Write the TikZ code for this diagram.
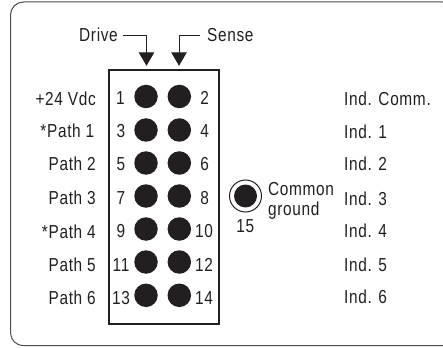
\documentclass[tikz,border=0pt]{standalone}
\usepackage{fontspec}
\setmainfont[FakeStretch=0.82,LetterSpace=3.5]{Liberation Sans}
\usetikzlibrary{arrows.meta}
\definecolor{ink}{HTML}{231F20}
\tikzset{
  x=1pt,y=-1pt,
  lbl/.style={inner sep=0pt,font=\fontsize{18.8}{18.8}\selectfont,text=ink},
  leftlbl/.style={lbl,anchor=base east},
  rightlbl/.style={lbl,anchor=base west},
  numl/.style={lbl,anchor=base},
  pin/.style={circle,fill=ink,minimum size=23.5pt,inner sep=0pt},
  conn/.style={draw=ink,line width=1pt,-{Triangle[length=13.5pt,width=15.5pt]}},
}
\begin{document}
\begin{tikzpicture}
\useasboundingbox (0,0) rectangle (443,347);
\draw[draw=ink!80,line width=1pt,rounded corners=13pt] (10.5,2) -- (455,2) -- (455,345.7) -- (10.5,345.7) -- cycle;
\node[draw=ink,line width=1.8pt,minimum width=110.5pt,minimum height=253.5pt,inner sep=0pt,anchor=north west] (box) at (107.8,69.5) {};
\foreach \y/\a/\b in {96.5/1/2,130/3/4,163/5/6,196/7/8,229/9/10,262/11/12,295.3/13/14}{
  \node[pin] (p\a) at (146,\y) {};
  \node[pin] (p\b) at (179.3,\y) {};
}
\node[numl] (n1) at (120.5,105) {1};
\node[numl] (n2) at (204.7,105) {2};
\node[numl] (n3) at (121,137.8) {3};
\node[numl] (n4) at (204.7,137.8) {4};
\node[numl] (n5) at (121,170.5) {5};
\node[numl] (n6) at (204.7,170.5) {6};
\node[numl] (n7) at (121,204) {7};
\node[numl] (n8) at (204.7,204) {8};
\node[numl] (n9) at (121,237.5) {9};
\node[numl] (n10) at (204,237.5) {10};
\node[numl] (n11) at (121,271) {11};
\node[numl] (n12) at (204,271) {12};
\node[numl] (n13) at (121,304) {13};
\node[numl] (n14) at (204,304) {14};
\node[leftlbl] (l1) at (96,105.5) {+24 Vdc};
\node[leftlbl] (l2) at (94.5,138) {*Path 1};
\node[leftlbl] (l3) at (96,171) {Path 2};
\node[leftlbl] (l4) at (96,204.5) {Path 3};
\node[leftlbl] (l5) at (96,238) {*Path 4};
\node[leftlbl] (l6) at (96,271) {Path 5};
\node[leftlbl] (l7) at (96,304) {Path 6};
\node[rightlbl] (r1) at (344,106) {Ind. Comm.};
\node[rightlbl] (r2) at (344,139) {Ind. 1};
\node[rightlbl] (r3) at (344,171) {Ind. 2};
\node[rightlbl] (r4) at (344,205.5) {Ind. 3};
\node[rightlbl] (r5) at (344,237) {Ind. 4};
\node[rightlbl] (r6) at (344,271) {Ind. 5};
\node[rightlbl] (r7) at (344,303) {Ind. 6};
\node[rightlbl] (cg1) at (268,195) {Common};
\node[rightlbl] (cg2) at (268,215) {ground};
\node[numl] (n15) at (245.3,232) {15};
\node[pin,minimum size=23pt] (p15) at (245.5,196) {};
\node[circle,draw=ink,line width=1pt,minimum size=32pt,inner sep=0pt] (ring) at (245.5,196) {};
\node[lbl,anchor=base east] (drive) at (118,41.7) {Drive};
\node[lbl,anchor=base west] (sense) at (207,41.7) {Sense};
\coordinate (dt) at (146.5,65.8);
\coordinate (st) at (179,65.8);
\draw[conn] (drive.east |- 0,35.7) ++(5,0) -| (dt);
\draw[conn] (sense.west |- 0,35.7) ++(-7,0) -| (st);
\end{tikzpicture}
\end{document}
